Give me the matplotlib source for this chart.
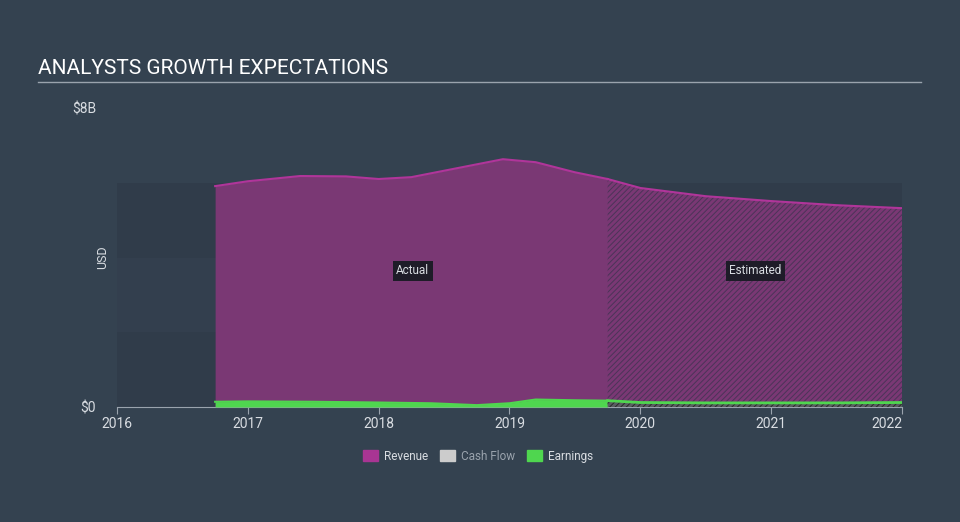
import matplotlib
matplotlib.use("Agg")
from matplotlib import pyplot as plt
from matplotlib.patches import Patch

plt.rcParams['font.family'] = ['Roboto', 'DejaVu Sans']

# revenue (USD billions), fractional years
rev_years = [2016.75, 2017.0, 2017.4, 2017.75, 2018.0, 2018.25, 2018.6, 2018.95, 2019.2, 2019.5, 2019.75]
rev_vals = [5.91, 6.04, 6.18, 6.17, 6.10, 6.15, 6.39, 6.63, 6.55, 6.28, 6.10]
rev_est_years = [2019.75, 2020.0, 2020.5, 2021.0, 2021.5, 2022.0]
rev_est_vals = [6.10, 5.86, 5.64, 5.51, 5.40, 5.32]

earn_years = [2016.75, 2017.0, 2017.5, 2018.0, 2018.4, 2018.75, 2019.0, 2019.2, 2019.5, 2019.75]
earn_vals = [0.14, 0.15, 0.14, 0.12, 0.10, 0.05, 0.10, 0.20, 0.18, 0.17]
earn_est_years = [2019.75, 2020.0, 2020.5, 2021.0, 2021.5, 2022.0]
earn_est_vals = [0.17, 0.12, 0.11, 0.11, 0.11, 0.12]

year_ticks = [2016, 2017, 2018, 2019, 2020, 2021, 2022]

BG = '#344250'
BAND = '#303c4a'
REV_FILL = '#7a3874'
REV_LINE = '#b0359a'
EARN = '#4fd64f'
TXT = '#d9dde2'
HATCH = '#4b3458'

plt.rcParams['hatch.color'] = HATCH
plt.rcParams['hatch.linewidth'] = 0.7

fig = plt.figure(figsize=(9.6, 5.22), dpi=100)
fig.patch.set_facecolor(BG)
ax = fig.add_axes([117/960, 1-407/522, (902-117)/960, (407-108)/522])
ax.set_facecolor(BG)
ax.set_xlim(2016, 2022)
ax.set_ylim(0, 8)

# background bands
for lo, hi, c in [(0, 2, BAND), (2, 4, '#333f4e'), (4, 6, BAND)]:
    ax.axhspan(lo, hi, color=c, zorder=0, lw=0)

# revenue actual
ax.fill_between(rev_years, 0, rev_vals, color=REV_FILL, lw=0, zorder=2)
ax.plot(rev_years, rev_vals, color=REV_LINE, lw=1.5, zorder=3)
# revenue estimated (hatched)
ax.fill_between(rev_est_years, 0, rev_est_vals, facecolor=REV_FILL, edgecolor=HATCH,
                hatch='//////', lw=0, zorder=2)
ax.plot(rev_est_years, rev_est_vals, color=REV_LINE, lw=1.5, zorder=3)

# earnings
ax.fill_between(earn_years, 0, earn_vals, color=EARN, lw=0, zorder=4)
ax.plot(earn_years, earn_vals, color=EARN, lw=1.5, zorder=4)
ax.fill_between(earn_est_years, 0, earn_est_vals, facecolor='#5a5e62', edgecolor='#2a2a2a',
                hatch='//////', lw=0, zorder=4)
ax.plot(earn_est_years, earn_est_vals, color=EARN, lw=2, zorder=5)

# labels
bbox = dict(boxstyle='square,pad=0.3', fc='#1e1c28', ec='none')
ax.text(2018.26, 3.64, 'Actual', color=TXT, fontsize=8.5, ha='center', va='center', bbox=bbox, zorder=6)
ax.text(2020.88, 3.64, 'Estimated', color=TXT, fontsize=8.5, ha='center', va='center', bbox=bbox, zorder=6)

# axes styling
for s in ['top', 'right', 'left']:
    ax.spines[s].set_visible(False)
ax.spines['bottom'].set_color('#9aa3ad')
ax.set_xticks(year_ticks)
ax.set_xticklabels([str(y) for y in year_ticks])
ax.tick_params(axis='x', colors='#9aa3ad', labelcolor=TXT, labelsize=10, length=5, pad=2)
ax.get_xticklabels()[-1].set_horizontalalignment('right')
ax.set_yticks([0, 8])
ax.set_yticklabels(['$0', '$8B'])
ax.tick_params(axis='y', length=0, labelcolor=TXT, labelsize=10, pad=15)
ax.set_ylabel('USD', color=TXT, fontsize=9, labelpad=2)
ax.yaxis.set_label_coords(-0.01, 0.5)

# title
fig.text(38/960, 1-68/522, 'ANALYSTS GROWTH EXPECTATIONS', color='white', fontsize=15,
         ha='left', va='center')
fig.add_artist(plt.Line2D([38/960, 921/960], [1-81.5/522, 1-81.5/522], color='#9aa3ad', lw=1))

# legend
handles = [Patch(color='#a83593'), Patch(color='#cccccc'), Patch(color=EARN)]
leg = fig.legend(handles, ['Revenue', 'Cash Flow', 'Earnings'], loc='center',
                 bbox_to_anchor=(478/960, 1-456/522), ncol=3, frameon=False,
                 fontsize=8.5, handlelength=1.3, handleheight=1.0, columnspacing=1.0,
                 handletextpad=0.5)
for t, c in zip(leg.get_texts(), [TXT, '#9aa3ad', TXT]):
    t.set_color(c)

fig.savefig('out.png', dpi=100, facecolor=BG)
